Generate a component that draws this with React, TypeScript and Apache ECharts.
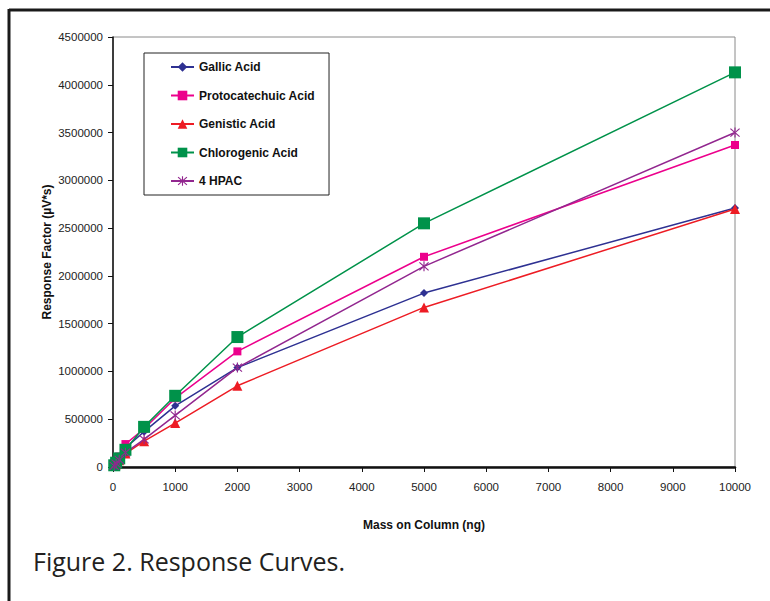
import React, { useEffect, useRef } from "react";
import * as echarts from "echarts";

const masses = [20, 50, 100, 200, 500, 1000, 2000, 5000, 10000];
const gallic = [15000, 40000, 90000, 200000, 370000, 640000, 1040000, 1820000, 2710000];
const protocatechuic = [20000, 50000, 110000, 240000, 400000, 720000, 1210000, 2200000, 3370000];
const genistic = [10000, 30000, 70000, 140000, 270000, 460000, 850000, 1670000, 2700000];
const chlorogenic = [18000, 45000, 90000, 180000, 420000, 745000, 1360000, 2550000, 4130000];
const hpac = [12000, 35000, 75000, 150000, 290000, 540000, 1040000, 2100000, 3500000];

const seriesNames = ["Gallic Acid", "Protocatechuic Acid", "Genistic Acid", "Chlorogenic Acid", "4 HPAC"];
const seriesColors = ["#2e3192", "#ec008c", "#ed1c24", "#00924a", "#92278f"];

const asterisk =
  "path://M-0.5,-5L0.5,-5L0.5,5L-0.5,5Z" +
  "M-3.65,-4.35L4.35,3.65L3.65,4.35L-4.35,-3.65Z" +
  "M-3.65,4.35L4.35,-3.65L3.65,-4.35L-4.35,3.65Z";

const symbols = ["diamond", "rect", "triangle", "rect", asterisk];
const symbolSizes = [8, 8, 10, 12, 10];

const labelFont = "'Liberation Sans', Arial, sans-serif";

export default function App() {
  const ref = useRef<HTMLDivElement>(null);
  useEffect(() => {
    if (!ref.current) return;
    const chart = echarts.init(ref.current, undefined, { renderer: "svg" });
    const values = [gallic, protocatechuic, genistic, chlorogenic, hpac];
    chart.setOption({
      animation: false,
      backgroundColor: "#ffffff",
      grid: {
        left: 113,
        right: 35,
        top: 37,
        bottom: 134,
        show: true,
        borderColor: "#8a8a8a",
        borderWidth: 1,
      },
      legend: {
        orient: "vertical",
        left: 144,
        top: 53,
        padding: [8, 14, 8, 26],
        itemGap: 16.5,
        itemWidth: 23,
        itemHeight: 12,
        borderColor: "#222",
        borderWidth: 1,
        backgroundColor: "#fff",
        textStyle: {
          fontFamily: labelFont,
          fontWeight: "bold",
          fontSize: 12,
          color: "#111",
        },
        data: seriesNames,
      },
      xAxis: {
        type: "value",
        min: 0,
        max: 10000,
        interval: 1000,
        name: "Mass on Column (ng)",
        nameLocation: "middle",
        nameGap: 52,
        nameTextStyle: {
          fontFamily: labelFont,
          fontWeight: "bold",
          fontSize: 12,
          color: "#111",
        },
        axisLine: { show: true, onZero: false, lineStyle: { color: "#111", width: 2.5 } },
        axisTick: { show: true, inside: false, length: 5, lineStyle: { color: "#111", width: 1 } },
        axisLabel: {
          fontFamily: labelFont,
          fontSize: 11.5,
          color: "#222",
          margin: 14,
          formatter: (v: number) => String(v),
        },
        splitLine: { show: false },
      },
      yAxis: {
        type: "value",
        min: 0,
        max: 4500000,
        interval: 500000,
        name: "Response Factor (µV*s)",
        nameLocation: "middle",
        nameGap: 60,
        nameMoveOverlap: false,
        nameTextStyle: {
          fontFamily: labelFont,
          fontWeight: "bold",
          fontSize: 12,
          color: "#111",
        },
        axisLine: { show: true, onZero: false, lineStyle: { color: "#111", width: 1.5 } },
        axisTick: { show: true, inside: false, length: 5, lineStyle: { color: "#111", width: 1 } },
        axisLabel: {
          fontFamily: labelFont,
          fontSize: 11.5,
          color: "#222",
          margin: 10,
          formatter: (v: number) => String(v),
        },
        splitLine: { show: false },
      },
      graphic: [
        {
          type: "line",
          shape: { x1: 9, y1: 10, x2: 770, y2: 10 },
          style: { stroke: "#1a1a1a", lineWidth: 3 },
        },
        {
          type: "line",
          shape: { x1: 9, y1: 9, x2: 9, y2: 601 },
          style: { stroke: "#1a1a1a", lineWidth: 3 },
        },
        {
          type: "text",
          left: 33,
          top: 548,
          style: {
            text: "Figure 2. Response Curves.",
            font: "25px 'Open Sans', 'Noto Sans', sans-serif",
            fill: "#231f20",
          },
        },
      ],
      series: seriesNames.map((name, i) => ({
        name,
        type: "line",
        data: masses.map((m, j) => [m, values[i][j]]),
        smooth: false,
        symbol: symbols[i],
        symbolSize: symbolSizes[i],
        showAllSymbol: true,
        lineStyle: { color: seriesColors[i], width: 1.5 },
        itemStyle: { color: seriesColors[i] },
        z: 2,
      })),
    });
    return () => chart.dispose();
  }, []);
  return <div ref={ref} style={{ width: 770, height: 601, position: "absolute", left: 0, top: 0 }} />;
}
